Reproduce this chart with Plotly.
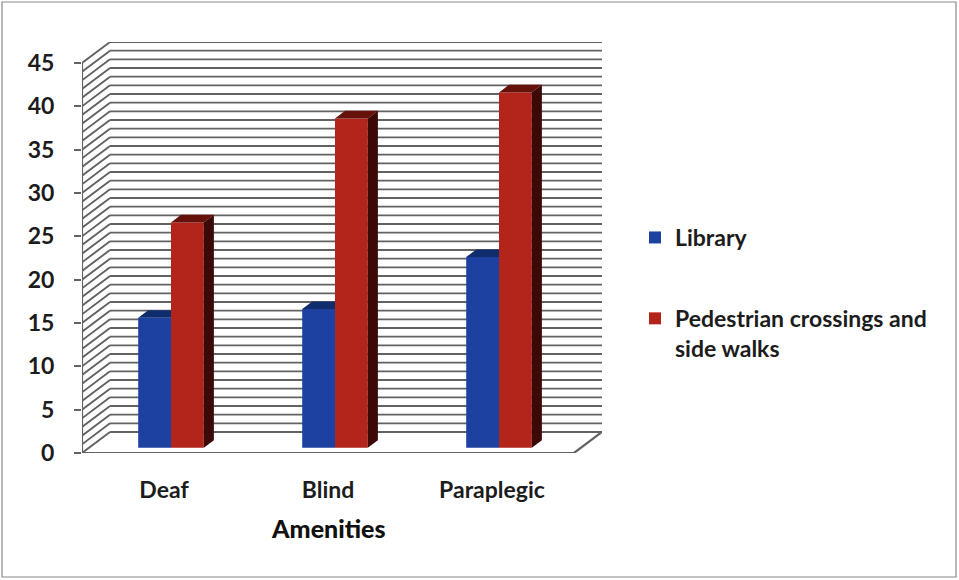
import plotly.graph_objects as go

# ---- data ----
categories = ["Deaf", "Blind", "Paraplegic"]
library = [15, 16, 22]
pedestrian = [26, 38, 41]
series_names = ["Library", "Pedestrian crossings and<br>side walks"]
y_ticks = list(range(0, 50, 5))
x_title = "Amenities"

# ---- geometry of the pseudo-3D box ----
W, H = 959, 580
ML, MR, MT, MB = 82, 357, 42, 127
plot_w = W - ML - MR
plot_h = H - MT - MB
Y_MAX = 45
DEPTH_PX_X, DEPTH_PX_Y = 28, 21          # how far the back wall is pushed
front_w = plot_w - DEPTH_PX_X
front_h = plot_h - DEPTH_PX_Y
ncat = len(categories)
px_per_x = front_w / ncat
px_per_y = front_h / Y_MAX
DX = DEPTH_PX_X / px_per_x                # depth offset in x-data units
DY = DEPTH_PX_Y / px_per_y                # depth offset in y-data units

X0, X1 = -0.5, ncat - 0.5
BAR_W = 0.2
F_FRONT, F_BACK = 0.25, 0.61              # bar depth span inside the box
ddx = (F_BACK - F_FRONT) * DX
ddy = (F_BACK - F_FRONT) * DY
base = F_FRONT * DY

colors = {
    "Library": dict(front="#1d41a0", top="#0f2c6c", side="#0b2054"),
    "Pedestrian": dict(front="#b3241a", top="#66110a", side="#3d0906"),
}
GRID = "#626262"
FONT = "Lato"
TXT = "#1c1c1c"
FS = 23

fig = go.Figure()

# ---- walls, floor and grid (below the bars) ----
shapes = []
line_style = dict(color=GRID, width=1.9)
for v in range(0, Y_MAX + 1):
    # side wall diagonal
    shapes.append(dict(type="line", xref="x", yref="y", layer="below",
                       x0=X0, y0=v, x1=X0 + DX, y1=v + DY, line=line_style))
    # back wall horizontal
    shapes.append(dict(type="line", xref="x", yref="y", layer="below",
                       x0=X0 + DX, y0=v + DY, x1=X1 + DX, y1=v + DY, line=line_style))
# floor front edge and right edge
shapes.append(dict(type="line", xref="x", yref="y", layer="below",
                   x0=X0, y0=0, x1=X1, y1=0, line=dict(color=GRID, width=2.2)))
shapes.append(dict(type="line", xref="x", yref="y", layer="below",
                   x0=X1, y0=0, x1=X1 + DX, y1=DY, line=dict(color=GRID, width=2.2)))
# front value axis
shapes.append(dict(type="line", xref="x", yref="y", layer="below",
                   x0=X0, y0=0, x1=X0, y1=Y_MAX, line=dict(color=GRID, width=2.2)))
# outer chart border
shapes.append(dict(type="rect", xref="paper", yref="paper", layer="below",
                   x0=(2 - ML) / plot_w, x1=(W - 3 - ML) / plot_w,
                   y0=-(H - 3 - (H - MB)) / plot_h, y1=(H - MB - 2) / plot_h,
                   line=dict(color="#8a8a8a", width=1.2)))

# ---- bars ----
xpos = list(range(ncat))
series = [
    ("Library", library, -BAR_W + F_FRONT * DX),
    ("Pedestrian", pedestrian, F_FRONT * DX),
]
for (key, vals, off), name in zip(series, series_names):
    fig.add_trace(go.Bar(
        x=xpos, y=vals, base=[base] * ncat, width=BAR_W, offset=off,
        name=name, legendgroup=key,
        marker=dict(color=colors[key]["front"], line=dict(width=0)),
        hovertemplate="%{y}<extra>" + key + "</extra>",
    ))


def poly(xs, ys, color):
    fig.add_trace(go.Scatter(
        x=xs + [xs[0]], y=ys + [ys[0]], mode="lines", fill="toself",
        fillcolor=color, line=dict(width=0, color=color),
        hoverinfo="skip", showlegend=False,
    ))


for i in range(ncat):
    vl, vp = library[i], pedestrian[i]
    # library bar top (its right part sits behind the taller neighbour)
    xl = i - BAR_W + F_FRONT * DX
    xr = i + F_FRONT * DX
    t = base + vl
    if vp >= vl:
        poly([xl, xr, xr, xl + ddx], [t, t, t + ddy, t + ddy], colors["Library"]["top"])
    else:
        poly([xl, xr, xr + ddx, xl + ddx], [t, t, t + ddy, t + ddy], colors["Library"]["top"])
    # pedestrian bar top and side
    xl2, xr2 = xr, xr + BAR_W
    t2 = base + vp
    poly([xl2, xr2, xr2 + ddx, xl2 + ddx], [t2, t2, t2 + ddy, t2 + ddy],
         colors["Pedestrian"]["top"])
    poly([xr2, xr2, xr2 + ddx, xr2 + ddx], [base, t2, t2 + ddy, base + ddy],
         colors["Pedestrian"]["side"])

# category-axis title, centred under the front edge of the floor
annotations = [dict(
    text=x_title, xref="x", yref="paper", x=(X0 + X1) / 2, y=-75 / plot_h,
    xanchor="center", yanchor="middle", showarrow=False,
    font=dict(family=FONT, size=25, color="#111", weight=900),
)]

fig.update_layout(
    width=W, height=H,
    margin=dict(l=ML, r=MR, t=MT, b=MB, pad=0),
    paper_bgcolor="white", plot_bgcolor="white",
    barmode="overlay",
    shapes=shapes,
    annotations=annotations,
    font=dict(family=FONT, color=TXT),
    showlegend=True,
    legend=dict(
        x=(635 - ML) / plot_w, xanchor="left",
        y=(H - MB - 216) / plot_h, yanchor="top",
        font=dict(family=FONT, size=FS, color=TXT, weight="bold"),
        tracegroupgap=48, valign="top",
        bgcolor="rgba(0,0,0,0)",
    ),
    xaxis=dict(
        range=[X0, X1 + DX], tickmode="array", tickvals=xpos, ticktext=categories,
        showgrid=False, zeroline=False, showline=False, ticks="",
        tickfont=dict(family=FONT, size=FS, color=TXT, weight="bold"),
        ticklabelstandoff=21,
        fixedrange=True,
    ),
    yaxis=dict(
        range=[0, Y_MAX + DY], tickmode="array", tickvals=y_ticks,
        showgrid=False, zeroline=False, showline=False,
        ticks="outside", ticklen=7, tickwidth=2, tickcolor=GRID,
        ticklabelstandoff=15,
        tickfont=dict(family=FONT, size=FS, color=TXT, weight="bold"),
        fixedrange=True,
    ),
)

fig.write_html("out.html")
